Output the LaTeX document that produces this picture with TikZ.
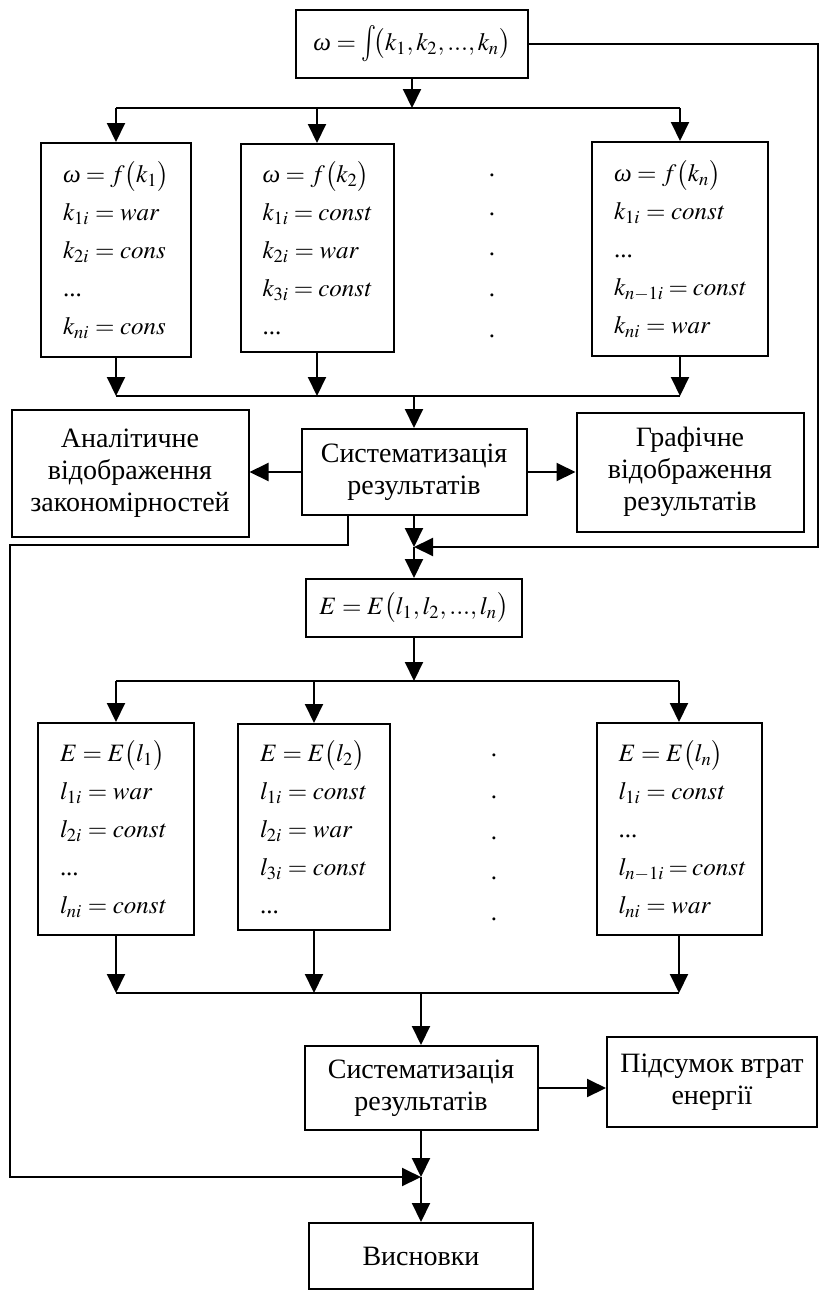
\documentclass[tikz,border=0pt]{standalone}
\usepackage{mathptmx}
\usepackage{graphicx}
\usepackage{fontspec}
\setmainfont{Liberation Serif}
\usetikzlibrary{arrows.meta}
\relpenalty=10000
\binoppenalty=10000
\newcommand{\om}{\mbox{\itshape ω}}
\newcommand{\bigint}{\mathop{\vcenter{\hbox{\scalebox{1}[1.45]{$\int$}}}}\nolimits}
\begin{document}
\begin{tikzpicture}[x=0.5pt,y=-0.5pt,
  line width=1pt,
  arr/.style={-{Triangle[length=9.5pt,width=9pt]}},
  tbox/.style={draw, align=center, inner sep=0pt, font=\fontsize{14}{16}\selectfont},
  fbox/.style={draw, align=center, inner sep=0pt, font=\fontsize{12.5}{15}\selectfont},
  mbox/.style={draw, align=left, inner xsep=11pt, inner ysep=0pt, font=\fontsize{12.5}{19}\selectfont},
  dotn/.style={font=\fontsize{12.5}{15}\selectfont, inner sep=0pt}
]
\useasboundingbox (0,0) rectangle (820,1291);

% ---- top part
\node[fbox, minimum width=116pt, minimum height=34pt] (top) at (412,44)
  {$\om=\bigint\!\bigl(k_1,k_2,...,k_n\bigr)$};

\node[mbox, text width=53pt, minimum height=107pt] (k1) at (116,250)
  {$\om=f\bigl(k_1\bigr)$\\ $k_{1i}=\mathit{war}$\\ $k_{2i}=\mathit{cons}$\\ ...\\ $k_{ni}=\mathit{cons}$};
\node[mbox, text width=54.5pt, minimum height=104pt] (k2) at (317,248)
  {$\om=f\bigl(k_2\bigr)$\\ $k_{1i}=\mathit{const}$\\ $k_{2i}=\mathit{war}$\\ $k_{3i}=\mathit{const}$\\ ...};
\node[mbox, text width=66pt, minimum height=107pt] (k3) at (680,249)
  {$\om=f\bigl(k_n\bigr)$\\ $k_{1i}=\mathit{const}$\\ ...\\ $k_{n-1i}=\mathit{const}$\\ $k_{ni}=\mathit{war}$};

\node[dotn] (d1) at (492,175) {.};
\node[dotn] (d2) at (492,214) {.};
\node[dotn] (d3) at (492,254) {.};
\node[dotn] (d4) at (492,295) {.};
\node[dotn] (d5) at (492,336) {.};

\node[tbox, minimum width=118.5pt, minimum height=63.5pt] (anal) at (130,473)
  {Аналітичне\\відображення\\закономірностей};
\node[tbox, minimum width=112.5pt, minimum height=43pt] (sys1) at (414,472)
  {Систематизація\\результатів};
\node[tbox, minimum width=113.5pt, minimum height=59.5pt] (graf) at (690,472)
  {Графічне\\відображення\\результатів};

\node[fbox, minimum width=108pt, minimum height=29pt] (E) at (414,608)
  {$E=E\bigl(l_1,l_2,...,l_n\bigr)$};

\node[mbox, text width=56pt, minimum height=106pt] (e1) at (116,829)
  {$E=E\bigl(l_1\bigr)$\\ $l_{1i}=\mathit{war}$\\ $l_{2i}=\mathit{const}$\\ ...\\ $l_{ni}=\mathit{const}$};
\node[mbox, text width=54pt, minimum height=103pt] (e2) at (314,827)
  {$E=E\bigl(l_2\bigr)$\\ $l_{1i}=\mathit{const}$\\ $l_{2i}=\mathit{war}$\\ $l_{3i}=\mathit{const}$\\ ...};
\node[mbox, text width=60.5pt, minimum height=106pt] (e3) at (679,829)
  {$E=E\bigl(l_n\bigr)$\\ $l_{1i}=\mathit{const}$\\ ...\\ $l_{n-1i}=\mathit{const}$\\ $l_{ni}=\mathit{war}$};

\node[dotn] (d6) at (494,755) {.};
\node[dotn] (d7) at (494,797) {.};
\node[dotn] (d8) at (494,838) {.};
\node[dotn] (d9) at (494,878) {.};
\node[dotn] (d10) at (494,919) {.};

\node[tbox, minimum width=116.5pt, minimum height=42pt] (sys2) at (421,1088)
  {Систематизація\\результатів};
\node[tbox, minimum width=105pt, minimum height=45pt] (pids) at (712,1082)
  {Підсумок втрат\\енергії};
\node[tbox, minimum width=112pt, minimum height=33pt] (vysn) at (421,1256)
  {Висновки};

% ---- coordinates
\coordinate (b1c) at (412,108);
\coordinate (b1l) at (116,108);
\coordinate (b1m) at (317,108);
\coordinate (b1r) at (680,108);
\coordinate (b2l) at (116,396);
\coordinate (b2m) at (317,396);
\coordinate (b2r) at (680,396);
\coordinate (b2c) at (414,396);
\coordinate (j1) at (414,547);
\coordinate (rc1) at (818,44);
\coordinate (rc2) at (818,547);
\coordinate (ll) at (348,545);
\coordinate (lc1) at (10,545);
\coordinate (lc2) at (10,1177);
\coordinate (b3l) at (116,681);
\coordinate (b3m) at (314,681);
\coordinate (b3r) at (679,681);
\coordinate (b3c) at (414,681);
\coordinate (b4l) at (116,993);
\coordinate (b4m) at (314,993);
\coordinate (b4r) at (679,993);
\coordinate (b4c) at (421,993);
\coordinate (j2) at (421,1177);

% ---- connectors
\draw[arr] (top.south) -- (b1c);
\draw (b1l) -- (b1r);
\draw[arr] (b1l) -- (k1.north);
\draw[arr] (b1m) -- (k2.north);
\draw[arr] (b1r) -- (k3.north);

\draw (b2l) -- (b2r);
\draw[arr] (k1.south) -- (b2l);
\draw[arr] (k2.south) -- (b2m);
\draw[arr] (k3.south) -- (b2r);
\draw[arr] (b2c) -- (sys1.north);
\draw[arr] (sys1.west) -- (sys1.west -| anal.east);
\draw[arr] (sys1.east) -- (sys1.east -| graf.west);

\draw[arr] (sys1.south) -- (j1);
\draw[arr] (top.east) -- (rc1) -- (rc2) -- (j1);
\draw[arr] (j1) -- (E.north);
\draw[arr] (sys1.south -| ll) -- (ll) -- (lc1) -- (lc2) -- (j2);

\draw[arr] (E.south) -- (b3c);
\draw (b3l) -- (b3r);
\draw[arr] (b3l) -- (e1.north);
\draw[arr] (b3m) -- (e2.north);
\draw[arr] (b3r) -- (e3.north);

\draw (b4l) -- (b4r);
\draw[arr] (e1.south) -- (b4l);
\draw[arr] (e2.south) -- (b4m);
\draw[arr] (e3.south) -- (b4r);
\draw[arr] (b4c) -- (sys2.north);
\draw[arr] (sys2.east) -- (sys2.east -| pids.west);
\draw[arr] (sys2.south) -- (j2);
\draw[arr] (j2) -- (vysn.north);
\end{tikzpicture}
\end{document}
